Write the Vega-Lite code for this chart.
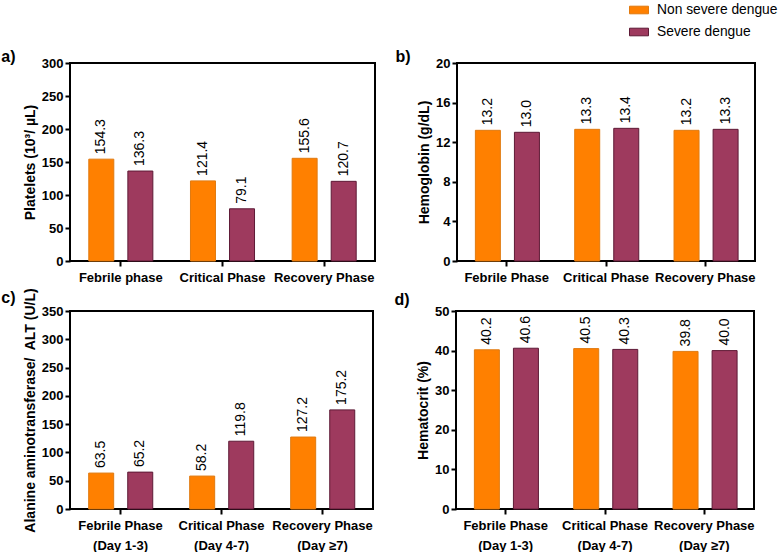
{
  "$schema": "https://vega.github.io/schema/vega-lite/v6.json",
  "padding": {"left": 0, "top": 0, "right": 0, "bottom": 0},
  "background": "white",
  "config": {
    "font": "Liberation Sans",
    "view": {"stroke": "black", "strokeWidth": 2},
    "axis": {
      "domain": false, "grid": false, "tickColor": "black", "tickWidth": 2, "tickSize": 5,
      "labelFont": "Liberation Sans", "labelFontWeight": "bold", "labelFontSize": 13, "labelColor": "black",
      "titleFont": "Liberation Sans", "titleFontWeight": "bold", "titleFontSize": 14, "titleColor": "black"
    },
    "axisX": {"labelAngle": 0, "title": null, "labelPadding": 5, "labelLineHeight": 20},
    "title": {"anchor": "start", "frame": "bounds", "fontSize": 16, "fontWeight": "bold", "color": "black", "font": "Liberation Sans"},
    "legend": {
      "orient": "none", "legendX": 559, "legendY": -63, "title": null,
      "symbolType": "M-1,-0.4H1V0.4H-1Z", "symbolSize": 361, "symbolStrokeWidth": 1,
      "labelFont": "Liberation Sans", "labelFontSize": 13.8, "labelColor": "black", "labelOffset": 8, "rowPadding": 5
    }
  },
  "datasets": {
    "platelets": [
      {"phase": "Febrile phase", "group": "Non severe dengue", "value": 154.3},
      {"phase": "Febrile phase", "group": "Severe dengue", "value": 136.3},
      {"phase": "Critical Phase", "group": "Non severe dengue", "value": 121.4},
      {"phase": "Critical Phase", "group": "Severe dengue", "value": 79.1},
      {"phase": "Recovery Phase", "group": "Non severe dengue", "value": 155.6},
      {"phase": "Recovery Phase", "group": "Severe dengue", "value": 120.7}
    ],
    "hemoglobin": [
      {"phase": "Febrile Phase", "group": "Non severe dengue", "value": 13.2},
      {"phase": "Febrile Phase", "group": "Severe dengue", "value": 13.0},
      {"phase": "Critical Phase", "group": "Non severe dengue", "value": 13.3},
      {"phase": "Critical Phase", "group": "Severe dengue", "value": 13.4},
      {"phase": "Recovery Phase", "group": "Non severe dengue", "value": 13.2},
      {"phase": "Recovery Phase", "group": "Severe dengue", "value": 13.3}
    ],
    "alt": [
      {"phase": "Febrile Phase|(Day 1-3)", "group": "Non severe dengue", "value": 63.5},
      {"phase": "Febrile Phase|(Day 1-3)", "group": "Severe dengue", "value": 65.2},
      {"phase": "Critical Phase|(Day 4-7)", "group": "Non severe dengue", "value": 58.2},
      {"phase": "Critical Phase|(Day 4-7)", "group": "Severe dengue", "value": 119.8},
      {"phase": "Recovery Phase|\u00a0\u00a0\u00a0(Day ≥7)", "group": "Non severe dengue", "value": 127.2},
      {"phase": "Recovery Phase|\u00a0\u00a0\u00a0(Day ≥7)", "group": "Severe dengue", "value": 175.2}
    ],
    "hematocrit": [
      {"phase": "Febrile Phase|(Day 1-3)", "group": "Non severe dengue", "value": 40.2},
      {"phase": "Febrile Phase|(Day 1-3)", "group": "Severe dengue", "value": 40.6},
      {"phase": "Critical Phase|(Day 4-7)", "group": "Non severe dengue", "value": 40.5},
      {"phase": "Critical Phase|(Day 4-7)", "group": "Severe dengue", "value": 40.3},
      {"phase": "Recovery Phase|\u00a0\u00a0\u00a0(Day ≥7)", "group": "Non severe dengue", "value": 39.8},
      {"phase": "Recovery Phase|\u00a0\u00a0\u00a0(Day ≥7)", "group": "Severe dengue", "value": 40.0}
    ]
  },
  "spacing": 1,
  "align": "none",
  "vconcat": [
    {
      "spacing": 82,
      "bounds": "flush",
      "hconcat": [
        {
          "title": {"text": "a)", "dx": -22, "offset": -8},
          "width": 305, "height": 198,
          "data": {"name": "platelets"},
          "encoding": {
            "x": {"field": "phase", "type": "nominal", "sort": null, "scale": {"paddingInner": 0.37, "paddingOuter": 0.185}, "axis": {"labelExpr": "split(datum.label, '|')"}},
            "xOffset": {"field": "group", "type": "nominal", "scale": {"paddingInner": 0.36, "paddingOuter": 0}},
            "y": {"field": "value", "type": "quantitative", "scale": {"domain": [0, 300]}, "axis": {"title": "Platelets (10³/ µL)", "values": [0, 50, 100, 150, 200, 250, 300]}}
          },
          "layer": [
            {"mark": {"type": "bar", "strokeWidth": 1},
             "encoding": {
               "color": {"field": "group", "type": "nominal", "scale": {"domain": ["Non severe dengue", "Severe dengue"], "range": ["#FF8000", "#9E3A5E"]}},
               "stroke": {"field": "group", "type": "nominal", "scale": {"domain": ["Non severe dengue", "Severe dengue"], "range": ["#E07A10", "#5E1A36"]}}
             }},
            {"mark": {"type": "text", "angle": 270, "align": "left", "baseline": "middle", "dx": 5, "fontSize": 14, "font": "Liberation Sans", "color": "black"},
             "encoding": {"text": {"field": "value", "type": "quantitative", "format": ".1f"}}}
          ]
        },
        {
          "title": {"text": "b)", "dx": -22, "offset": -8},
          "width": 298, "height": 198,
          "data": {"name": "hemoglobin"},
          "encoding": {
            "x": {"field": "phase", "type": "nominal", "sort": null, "scale": {"paddingInner": 0.37, "paddingOuter": 0.185}, "axis": {"labelExpr": "split(datum.label, '|')"}},
            "xOffset": {"field": "group", "type": "nominal", "scale": {"paddingInner": 0.36, "paddingOuter": 0}},
            "y": {"field": "value", "type": "quantitative", "scale": {"domain": [0, 20]}, "axis": {"title": "Hemoglobin (g/dL)", "values": [0, 4, 8, 12, 16, 20]}}
          },
          "layer": [
            {"mark": {"type": "bar", "strokeWidth": 1},
             "encoding": {
               "color": {"field": "group", "type": "nominal"},
               "stroke": {"field": "group", "type": "nominal"}
             }},
            {"mark": {"type": "text", "angle": 270, "align": "left", "baseline": "middle", "dx": 5, "fontSize": 14, "font": "Liberation Sans", "color": "black"},
             "encoding": {"text": {"field": "value", "type": "quantitative", "format": ".1f"}}}
          ]
        }
      ]
    },
    {
      "spacing": 83,
      "bounds": "flush",
      "hconcat": [
        {
          "title": {"text": "c)", "dx": -22, "offset": -18},
          "width": 303, "height": 198,
          "data": {"name": "alt"},
          "encoding": {
            "x": {"field": "phase", "type": "nominal", "sort": null, "scale": {"paddingInner": 0.37, "paddingOuter": 0.185}, "axis": {"labelExpr": "split(datum.label, '|')"}},
            "xOffset": {"field": "group", "type": "nominal", "scale": {"paddingInner": 0.36, "paddingOuter": 0}},
            "y": {"field": "value", "type": "quantitative", "scale": {"domain": [0, 350]}, "axis": {"title": "Alanine aminotransferase/\u00a0 ALT (U/L)", "values": [0, 50, 100, 150, 200, 250, 300, 350]}}
          },
          "layer": [
            {"mark": {"type": "bar", "strokeWidth": 1},
             "encoding": {
               "color": {"field": "group", "type": "nominal"},
               "stroke": {"field": "group", "type": "nominal"}
             }},
            {"mark": {"type": "text", "angle": 270, "align": "left", "baseline": "middle", "dx": 5, "fontSize": 14, "font": "Liberation Sans", "color": "black"},
             "encoding": {"text": {"field": "value", "type": "quantitative", "format": ".1f"}}}
          ]
        },
        {
          "title": {"text": "d)", "dx": -22, "offset": -3},
          "width": 298, "height": 198,
          "data": {"name": "hematocrit"},
          "encoding": {
            "x": {"field": "phase", "type": "nominal", "sort": null, "scale": {"paddingInner": 0.37, "paddingOuter": 0.185}, "axis": {"labelExpr": "split(datum.label, '|')"}},
            "xOffset": {"field": "group", "type": "nominal", "scale": {"paddingInner": 0.36, "paddingOuter": 0}},
            "y": {"field": "value", "type": "quantitative", "scale": {"domain": [0, 50]}, "axis": {"title": "Hematocrit (%)", "values": [0, 10, 20, 30, 40, 50]}}
          },
          "layer": [
            {"mark": {"type": "bar", "strokeWidth": 1},
             "encoding": {
               "color": {"field": "group", "type": "nominal"},
               "stroke": {"field": "group", "type": "nominal"}
             }},
            {"mark": {"type": "text", "angle": 270, "align": "left", "baseline": "middle", "dx": 5, "fontSize": 14, "font": "Liberation Sans", "color": "black"},
             "encoding": {"text": {"field": "value", "type": "quantitative", "format": ".1f"}}}
          ]
        }
      ]
    }
  ]
}
